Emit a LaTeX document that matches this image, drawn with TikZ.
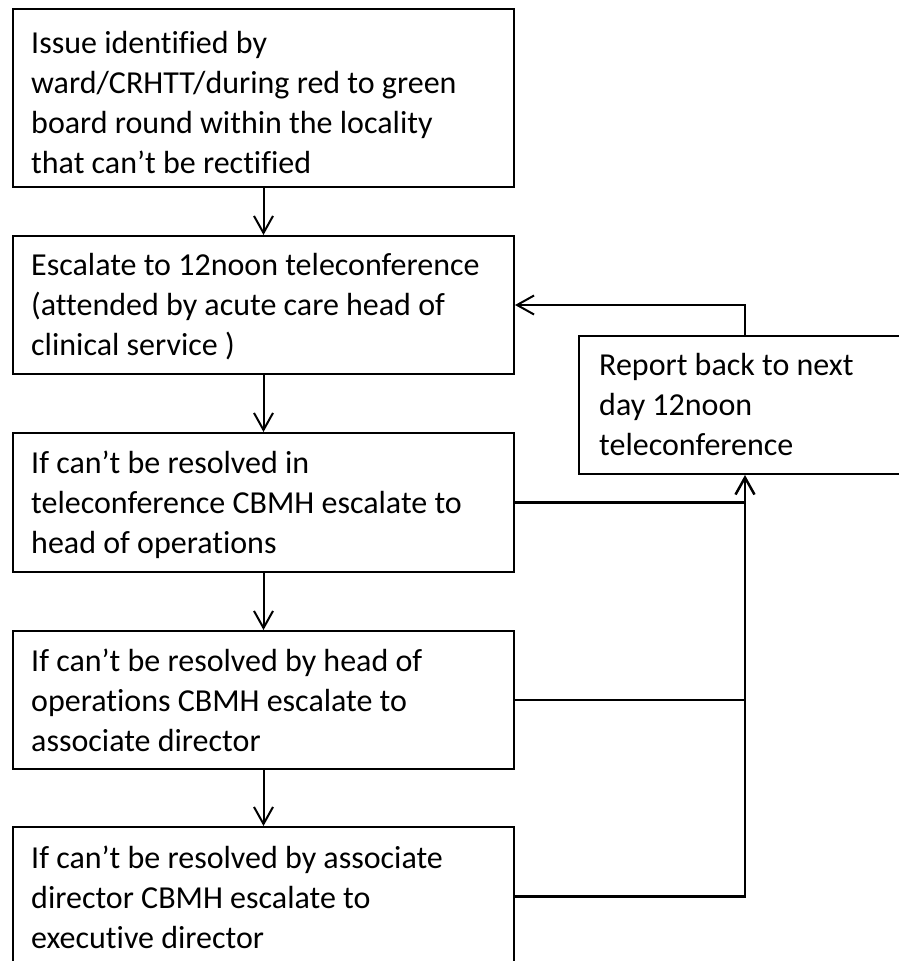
\documentclass[tikz,border=0pt]{standalone}
\usepackage{fontspec}
\setmainfont{Carlito}[Ligatures=NoCommon]
\usetikzlibrary{arrows.meta}
\begin{document}
\begin{tikzpicture}[x=1pt,y=-1pt,
  stepbox/.style={draw, line width=2pt, rectangle, anchor=north west, inner sep=0pt},
  txt/.style={anchor=north west, inner sep=0pt, align=left,
              font=\fontsize{32}{40}\selectfont},
  flow/.style={line width=2pt,
               -{Straight Barb[length=17pt,width=19pt,line width=2pt]}},
  link/.style={line width=2.5pt}]
\clip (0,0) rectangle (899,961);

% escalation chain
\node[stepbox, minimum width=501pt, minimum height=178pt] (b1) at (12,8) {};
\node[stepbox, minimum width=501pt, minimum height=138pt] (b2) at (12,235) {};
\node[stepbox, minimum width=501pt, minimum height=139pt] (b3) at (12,432) {};
\node[stepbox, minimum width=501pt, minimum height=138pt] (b4) at (12,630) {};
\node[stepbox, minimum width=501pt, minimum height=139pt] (b5) at (12,826) {};

% feedback box
\node[stepbox, minimum width=332pt, minimum height=138pt] (rep) at (578,335) {};

% box texts
\node[txt] (t1) at ([shift={(19,17)}]b1.north west)
  {\strut Issue identified by\\ward/CRHTT/during red to green\\board round within the locality\\that can’t be rectified};
\node[txt] (t2) at ([shift={(19,12)}]b2.north west)
  {\strut Escalate to 12noon teleconference\\(attended by acute care head of\\clinical service )};
\node[txt] (t3) at ([shift={(19,13)}]b3.north west)
  {\strut If can’t be resolved in\\teleconference CBMH escalate to\\head of operations};
\node[txt] (t4) at ([shift={(19,13)}]b4.north west)
  {\strut If can’t be resolved by head of\\operations CBMH escalate to\\associate director};
\node[txt] (t5) at ([shift={(19,14)}]b5.north west)
  {\strut If can’t be resolved by associate\\director CBMH escalate to\\executive director};
\node[txt] (tr) at ([shift={(21,12)}]rep.north west)
  {\strut Report back to next\\day 12noon\\teleconference};

% downward arrows
\draw[flow] (b1.south) -- (b2.north);
\draw[flow] (b2.south) -- (b3.north);
\draw[flow] (b3.south) -- (b4.north);
\draw[flow] (b4.south) -- (b5.north);

% report back loop
\draw[flow] (rep.north) |- (b2.east);

% unresolved cases feed the report box
\draw[link] (b3.east) -- (b3.east -| rep.south);
\draw[link] (b4.east) -- (b4.east -| rep.south);
\draw[link, -{Straight Barb[length=17pt,width=19pt,line width=2.5pt]}] (b5.east) -| (rep.south);
\end{tikzpicture}
\end{document}
